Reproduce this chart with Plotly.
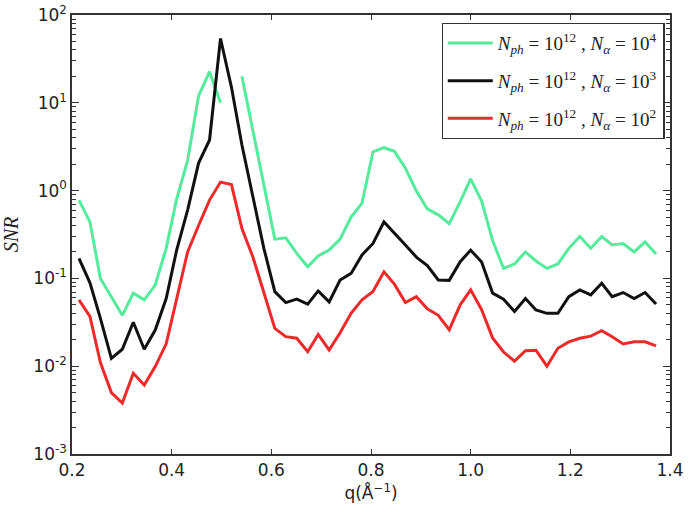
import plotly.graph_objects as go

q = [0.214, 0.236, 0.257, 0.279, 0.301, 0.323, 0.345, 0.367, 0.389, 0.410,
     0.432, 0.454, 0.476, 0.498, 0.520, 0.541, 0.563, 0.585, 0.607, 0.629,
     0.651, 0.673, 0.694, 0.716, 0.738, 0.760, 0.782, 0.804, 0.826, 0.847,
     0.869, 0.891, 0.913, 0.935, 0.957, 0.979, 1.000, 1.022, 1.044, 1.066,
     1.088, 1.110, 1.131, 1.153, 1.175, 1.197, 1.219, 1.241, 1.263, 1.284,
     1.306, 1.328, 1.350, 1.372]

snr_a4 = [0.78, 0.44, 0.10, 0.062, 0.038, 0.068, 0.057, 0.084, 0.22, 0.8,
          2.2, 12, 22.6, 10, None, 20, 4.9, 1.2, 0.28, 0.29,
          0.193, 0.136, 0.18, 0.21, 0.28, 0.5, 0.72, 2.77, 3.08, 2.8,
          1.8, 0.99, 0.62, 0.53, 0.42, 0.75, 1.36, 0.76, 0.27, 0.13,
          0.146, 0.20, 0.158, 0.13, 0.146, 0.22, 0.30, 0.22, 0.30, 0.24,
          0.25, 0.20, 0.26, 0.19]

snr_a3 = [0.169, 0.089, 0.035, 0.0123, 0.0156, 0.0317, 0.0156, 0.0258, 0.059, 0.21,
          0.6, 2.06, 3.77, 54, 15, 3.3, 0.85, 0.22, 0.0706, 0.053,
          0.058, 0.051, 0.072, 0.054, 0.096, 0.114, 0.185, 0.25, 0.44, 0.33,
          0.24, 0.175, 0.14, 0.096, 0.095, 0.155, 0.21, 0.154, 0.068, 0.058,
          0.042, 0.059, 0.0437, 0.040, 0.040, 0.062, 0.074, 0.065, 0.088, 0.062,
          0.069, 0.059, 0.069, 0.051]

snr_a2 = [0.057, 0.037, 0.011, 0.0050, 0.0038, 0.0083, 0.0061, 0.0099, 0.018, 0.060,
          0.20, 0.40, 0.78, 1.25, 1.17, 0.37, 0.175, 0.069, 0.027, 0.0217,
          0.0208, 0.0146, 0.023, 0.0153, 0.024, 0.040, 0.057, 0.071, 0.119, 0.086,
          0.053, 0.062, 0.045, 0.038, 0.026, 0.050, 0.074, 0.044, 0.021, 0.0145,
          0.0114, 0.015, 0.0152, 0.010, 0.016, 0.0189, 0.0208, 0.022, 0.0254, 0.0217,
          0.0179, 0.019, 0.019, 0.017]

names = [
    "<i>N</i><sub><i>ph</i></sub> = 10<sup>12</sup> , <i>N</i><sub><i>α</i></sub> = 10<sup>4</sup>",
    "<i>N</i><sub><i>ph</i></sub> = 10<sup>12</sup> , <i>N</i><sub><i>α</i></sub> = 10<sup>3</sup>",
    "<i>N</i><sub><i>ph</i></sub> = 10<sup>12</sup> , <i>N</i><sub><i>α</i></sub> = 10<sup>2</sup>",
]
colors = ["#55eb9c", "#111111", "#ec2a2a"]

y_tickvals = [1e-3, 1e-2, 1e-1, 1, 10, 100]
y_ticktext = ["10<sup>-3</sup>", "10<sup>-2</sup>", "10<sup>-1</sup>",
              "10<sup>0</sup>", "10<sup>1</sup>", "10<sup>2</sup>"]
y_minor = [m * d for d in [1e-3, 1e-2, 1e-1, 1, 10] for m in range(2, 10)]
x_tickvals = [0.2, 0.4, 0.6, 0.8, 1.0, 1.2, 1.4]
x_ticktext = ["0.2", "0.4", "0.6", "0.8", "1.0", "1.2", "1.4"]

fig = go.Figure()
for i, (ys, nm, c) in enumerate(zip([snr_a4, snr_a3, snr_a2], names, colors)):
    fig.add_trace(go.Scatter(x=q, y=ys, mode="lines", name=nm,
                             line=dict(color=c, width=3),
                             legendgroup=f"g{i}", connectgaps=False))

axcol = "#333333"
fig.update_layout(
    width=692, height=512,
    margin=dict(l=72, r=22, t=15, b=58),
    paper_bgcolor="white", plot_bgcolor="white",
    font=dict(family="DejaVu Sans", size=17, color="#222222"),
    showlegend=True,
    legend=dict(
        x=0.618, y=0.982, xanchor="left", yanchor="top",
        bgcolor="white", bordercolor=axcol, borderwidth=1.2,
        font=dict(family="Liberation Serif", size=19, color="#222222"),
        tracegroupgap=10, itemwidth=45,
    ),
    xaxis=dict(
        range=[0.2, 1.4], tickvals=x_tickvals, ticktext=x_ticktext,
        ticks="inside", ticklen=5, tickcolor=axcol, mirror="ticks",
        showline=True, linecolor=axcol, linewidth=1.5,
        showgrid=False, zeroline=False, automargin=False,
        title=dict(text="q(Å<sup>−1</sup>)", font=dict(size=17), standoff=8),
    ),
    yaxis=dict(
        type="log", range=[-3, 2], tickvals=y_tickvals, ticktext=y_ticktext,
        ticks="inside", ticklen=7, tickcolor=axcol, mirror="ticks",
        showline=True, linecolor=axcol, linewidth=1.5,
        showgrid=False, zeroline=False, automargin=False,
        minor=dict(tickvals=y_minor, ticks="inside", ticklen=4,
                   tickcolor=axcol, showgrid=False),
        title=dict(text="<i>SNR</i>", font=dict(family="Liberation Serif", size=20), standoff=12),
    ),
)

fig.write_html("out.html", config={"displayModeBar": False},
               post_script="document.body.style.margin='0';")
